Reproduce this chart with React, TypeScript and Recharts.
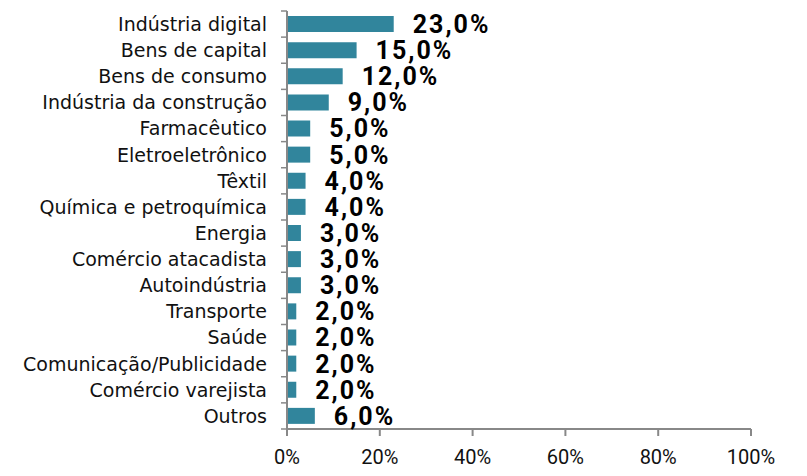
import React from 'react';
import { BarChart, Bar, XAxis, YAxis, LabelList } from 'recharts';

// Setores e participação (%)
const sectors: string[] = [
  'Indústria digital',
  'Bens de capital',
  'Bens de consumo',
  'Indústria da construção',
  'Farmacêutico',
  'Eletroeletrônico',
  'Têxtil',
  'Química e petroquímica',
  'Energia',
  'Comércio atacadista',
  'Autoindústria',
  'Transporte',
  'Saúde',
  'Comunicação/Publicidade',
  'Comércio varejista',
  'Outros',
];
const shares: number[] = [23, 15, 12, 9, 5, 5, 4, 4, 3, 3, 3, 2, 2, 2, 2, 6];
const xTicks: number[] = [0, 20, 40, 60, 80, 100];

const data = sectors.map((name, i) => ({ name, value: shares[i] }));

const WIDTH = 807;
const HEIGHT = 476;
const MARGIN = { top: 11, right: 56, left: 0, bottom: 0 };
const X_AXIS_HEIGHT = 47;
const AXIS_GRAY = '#888888';
const BAR_COLOR = '#31859C';

const plotHeight = HEIGHT - MARGIN.top - MARGIN.bottom - X_AXIS_HEIGHT;
const band = plotHeight / sectors.length;

// category tick: label at the band centre, tick mark on the band boundary (Excel style)
const CategoryTick = (props: any) => {
  const { x, y, payload, index } = props;
  const axisX = x + 20;
  return (
    <g>
      <line x1={axisX - 6} x2={axisX} y1={y - band / 2} y2={y - band / 2} stroke={AXIS_GRAY} strokeWidth={1.5} />
      {index === sectors.length - 1 && (
        <line x1={axisX - 6} x2={axisX} y1={y + band / 2} y2={y + band / 2} stroke={AXIS_GRAY} strokeWidth={1.5} />
      )}
      <text x={x} y={y} dy="0.36em" textAnchor="end" fill="#111" fontSize={19} fontFamily="DejaVu Sans">
        {payload.value}
      </text>
    </g>
  );
};

const XTick = (props: any) => {
  const { x, y, payload } = props;
  return (
    <text x={x} y={y} dy="0.71em" textAnchor="middle" fill="#111" fontSize={20} fontFamily="Roboto">
      {`${payload.value}%`}
    </text>
  );
};

const fmtPct = (v: number) => `${v.toFixed(1).replace('.', ',')}%`;

const App: React.FC = () => (
  <div style={{ margin: -8, width: WIDTH, height: HEIGHT, background: '#fff' }}>
    <BarChart width={WIDTH} height={HEIGHT} data={data} layout="vertical" margin={MARGIN} barSize={16}>
      <XAxis
        type="number"
        domain={[0, 100]}
        ticks={xTicks}
        height={X_AXIS_HEIGHT}
        axisLine={{ stroke: AXIS_GRAY, strokeWidth: 2 }}
        tickLine={{ stroke: AXIS_GRAY, strokeWidth: 2 }}
        tickSize={7}
        tickMargin={14}
        tick={<XTick />}
        interval={0}
      />
      <YAxis
        type="category"
        dataKey="name"
        width={287}
        axisLine={{ stroke: AXIS_GRAY, strokeWidth: 2 }}
        tickLine={false}
        tickSize={0}
        tickMargin={20}
        tick={<CategoryTick />}
        interval={0}
      />
      <Bar dataKey="value" fill={BAR_COLOR} isAnimationActive={false}>
        <LabelList
          dataKey="value"
          position="right"
          offset={19}
          formatter={(v: any) => fmtPct(Number(v))}
          fill="#000"
          fontSize={25}
          fontWeight="bold"
          fontFamily="Roboto"
          letterSpacing={2}
        />
      </Bar>
    </BarChart>
  </div>
);

export default App;
